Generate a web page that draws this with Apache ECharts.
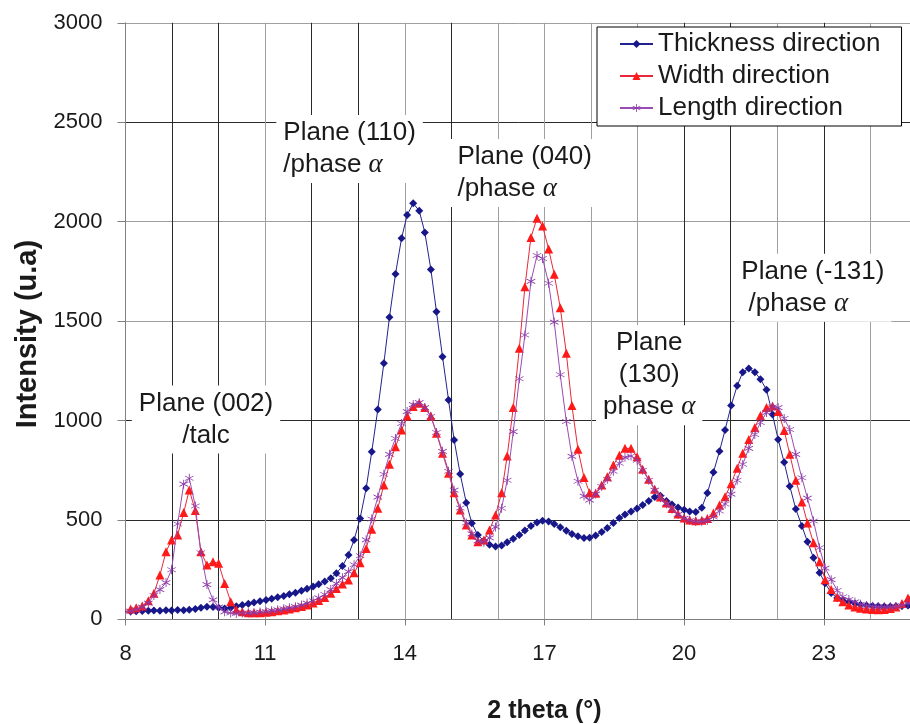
<!DOCTYPE html>
<html>
<head>
<meta charset="utf-8">
<script src="https://cdn.jsdelivr.net/npm/echarts@6/dist/echarts.min.js"></script>
<style>
  html, body { margin: 0; padding: 0; background: #ffffff; }
  #chart { width: 910px; height: 724px; }
</style>
</head>
<body>
<div id="chart"></div>
<script>
// Diffraction scan positions, 2 theta (deg)
const twoTheta = [
  7.98, 8.11, 8.23, 8.36, 8.49, 8.61, 8.74, 8.87, 8.99, 9.12,
  9.25, 9.37, 9.50, 9.62, 9.75, 9.88, 10.00, 10.13, 10.26, 10.38,
  10.51, 10.64, 10.76, 10.89, 11.02, 11.14, 11.27, 11.40, 11.52, 11.65,
  11.78, 11.90, 12.03, 12.15, 12.28, 12.41, 12.53, 12.66, 12.79, 12.91,
  13.04, 13.17, 13.29, 13.42, 13.55, 13.67, 13.80, 13.93, 14.05, 14.18,
  14.31, 14.43, 14.56, 14.68, 14.81, 14.94, 15.06, 15.19, 15.32, 15.44,
  15.57, 15.70, 15.82, 15.95, 16.08, 16.20, 16.33, 16.46, 16.58, 16.71,
  16.84, 16.96, 17.09, 17.21, 17.34, 17.47, 17.59, 17.72, 17.85, 17.97,
  18.10, 18.23, 18.35, 18.48, 18.61, 18.73, 18.86, 18.99, 19.11, 19.24,
  19.37, 19.49, 19.62, 19.74, 19.87, 20.00, 20.12, 20.25, 20.38, 20.50,
  20.63, 20.76, 20.88, 21.01, 21.14, 21.26, 21.39, 21.52, 21.64, 21.77,
  21.90, 22.02, 22.15, 22.27, 22.40, 22.53, 22.65, 22.78, 22.91, 23.03,
  23.16, 23.29, 23.41, 23.54, 23.67, 23.79, 23.92, 24.05, 24.17, 24.30,
  24.43, 24.55, 24.68, 24.81, 24.93, 25.06
];

// Intensity (u.a) measured along each direction
const thicknessIntensity = [
  38, 40, 41, 42, 44, 45, 44, 46, 45, 47,
  46, 48, 52, 58, 63, 62, 58, 55, 58, 66,
  73, 79, 85, 91, 98, 104, 111, 118, 126, 134,
  144, 154, 165, 177, 191, 207, 232, 268, 324, 399,
  508, 659, 843, 1056, 1288, 1519, 1737, 1916, 2033, 2092,
  2055, 1946, 1760, 1547, 1321, 1103, 902, 731, 587, 483,
  424, 395, 376, 366, 372, 388, 405, 425, 447, 470,
  487, 496, 492, 480, 463, 446, 430, 418, 409, 410,
  422, 440, 460, 485, 510, 528, 543, 558, 575, 595,
  615, 622, 595, 578, 563, 552, 543, 540, 562, 636,
  740, 845, 952, 1075, 1175, 1243, 1262, 1243, 1208, 1155,
  1030, 905, 790, 670, 555, 470, 390, 310, 235, 182,
  133, 108, 95, 87, 80, 74, 70, 67, 66, 65,
  65, 66, 68, 70, 74, 78
];

const widthIntensity = [
  45, 52, 58, 68, 94, 131, 223, 340, 399, 424,
  537, 651, 547, 340, 273, 290, 282, 181, 89, 48,
  38, 34, 33, 34, 36, 39, 43, 47, 52, 58,
  65, 73, 83, 95, 110, 131, 156, 178, 198, 235,
  285, 357, 453, 559, 676, 780, 868, 952, 1023, 1070,
  1087, 1066, 1023, 936, 835, 735, 637, 550, 475, 424,
  391, 399, 449, 525, 637, 822, 1065, 1363, 1673, 1921,
  2017, 1978, 1862, 1735, 1567, 1338, 1075, 855, 714, 637,
  634, 676, 717, 776, 826, 860, 860, 818, 755, 705,
  655, 615, 585, 558, 530, 510, 500, 496, 498, 508,
  535, 575, 617, 682, 760, 836, 905, 965, 1025, 1066,
  1073, 1045, 950, 830, 700, 590, 485, 385, 290, 200,
  150, 112, 89, 72, 62, 56, 52, 50, 49, 50,
  55, 62, 80, 108, 130, 150
];

const lengthIntensity = [
  36, 42, 50, 62, 82, 120, 150, 185, 250, 480,
  680, 710, 570, 335, 175, 98, 62, 38, 32, 30,
  32, 32, 34, 37, 40, 44, 48, 53, 58, 64,
  72, 82, 94, 108, 125, 150, 180, 210, 240, 275,
  320, 400, 505, 615, 730, 830, 910, 985, 1045, 1080,
  1090, 1065, 1020, 940, 845, 745, 650, 560, 485, 430,
  395, 388, 410, 465, 559, 700, 944, 1210, 1430, 1700,
  1830, 1815, 1690, 1495, 1230, 995, 820, 695, 620, 600,
  630, 668, 705, 745, 785, 815, 822, 800, 750, 700,
  650, 612, 582, 555, 528, 508, 497, 492, 492, 498,
  515, 545, 580, 630, 700, 780, 860, 930, 990, 1040,
  1068, 1065, 1010, 955, 830, 712, 610, 495, 360, 258,
  200, 145, 114, 100, 88, 76, 70, 66, 64, 63,
  63, 65, 70, 80, 92, 105
];

const seriesNames = ['Thickness direction', 'Width direction', 'Length direction'];

// Axis ticks
const xTickLabels = [8, 11, 14, 17, 20, 23];
const yTickLabels = [0, 500, 1000, 1500, 2000, 2500, 3000];

// Reflection labels: text, anchor in data units, alignment of the block
const peakNotes = [
  { text: 'Plane (002)\n/talc', at: [9.73, 1005], align: 'center' },
  { text: 'Plane (110)\n/phase {a|α}', at: [11.24, 2365], align: 'left' },
  { text: 'Plane (040)\n/phase {a|α}', at: [14.98, 2245], align: 'left' },
  { text: 'Plane\n(130)\nphase {a|α}', at: [19.25, 1228], align: 'center' },
  { text: 'Plane (-131)\n /phase {a|α}', at: [21.08, 1668], align: 'left' }
];

const SANS = '"Liberation Sans", Arial, Helvetica, sans-serif';
const INK = '#1a1a1a';
const DARK_GRID = '#2a2a2a';
const LIGHT_GRID = '#a0a0a0';

// x grid lines from 8 to 26, alternating the darker and lighter strokes
const xGridColors = [
  LIGHT_GRID, DARK_GRID, DARK_GRID, LIGHT_GRID, DARK_GRID, DARK_GRID, LIGHT_GRID,
  DARK_GRID, LIGHT_GRID, LIGHT_GRID, LIGHT_GRID, LIGHT_GRID, DARK_GRID, DARK_GRID,
  LIGHT_GRID, DARK_GRID, LIGHT_GRID, LIGHT_GRID, LIGHT_GRID
];
const yGridColors = [LIGHT_GRID, DARK_GRID, DARK_GRID, LIGHT_GRID, LIGHT_GRID, DARK_GRID, LIGHT_GRID];

// six-armed asterisk marker
const ASTERISK = 'path://M9.2,0L10.8,0L10.8,20L9.2,20Z' +
  'M1.576,5.678L17.576,15.678L18.424,14.322L2.424,4.322Z' +
  'M2.424,15.678L18.424,5.678L17.576,4.322L1.576,14.322Z';

const pairs = (ys) => twoTheta.map((x, i) => [x, ys[i]]);

const chart = echarts.init(document.getElementById('chart'), null, { renderer: 'canvas' });

const xMin = xTickLabels[0];
const xStep = xTickLabels[1] - xTickLabels[0];

chart.setOption({
  animation: false,
  backgroundColor: '#ffffff',
  grid: { left: 125.5, top: 22.8, width: 837.9, height: 596.6, containLabel: false, outerBoundsMode: 'none' },
  legend: {
    orient: 'vertical',
    left: 597,
    top: 27,
    padding: [4, 21, 5, 22],
    itemGap: 6,
    itemWidth: 33,
    itemHeight: 10,
    backgroundColor: '#ffffff',
    borderColor: '#000000',
    borderWidth: 1,
    borderRadius: 0,
    textStyle: { fontFamily: SANS, fontSize: 26, color: INK },
    data: seriesNames
  },
  xAxis: [
    {
      type: 'value',
      min: xMin,
      max: 26,
      interval: xStep,
      position: 'bottom',
      name: '2 theta (°)',
      nameLocation: 'middle',
      nameGap: 79,
      nameTextStyle: { fontFamily: SANS, fontSize: 25, fontWeight: 'bold', color: INK },
      axisLine: { show: true, lineStyle: { color: '#808080', width: 1 } },
      axisTick: { show: true, length: 6, lineStyle: { color: '#808080' } },
      axisLabel: {
        fontFamily: SANS, fontSize: 22, color: INK, margin: 24,
        formatter: (v) => (xTickLabels.indexOf(v) >= 0 ? String(v) : '')
      },
      splitLine: { show: false }
    },
    {
      type: 'value',
      min: xMin,
      max: 26,
      interval: 1,
      position: 'bottom',
      axisLine: { show: false },
      axisTick: { show: false },
      axisLabel: { show: false },
      splitLine: { show: true, lineStyle: { color: xGridColors, width: 1 } }
    }
  ],
  yAxis: {
    type: 'value',
    min: yTickLabels[0],
    max: yTickLabels[yTickLabels.length - 1],
    interval: yTickLabels[1] - yTickLabels[0],
    name: 'Intensity (u.a)',
    nameLocation: 'middle',
    nameGap: 82,
    nameTextStyle: { fontFamily: SANS, fontSize: 29, fontWeight: 'bold', color: INK, padding: [0, 26, 0, 0] },
    axisLine: { show: true, lineStyle: { color: '#808080', width: 1 } },
    axisTick: { show: true, length: 8, lineStyle: { color: '#808080' } },
    axisLabel: { fontFamily: SANS, fontSize: 22, color: INK, margin: 23, formatter: (v) => String(v) },
    splitLine: { show: true, lineStyle: { color: yGridColors, width: 1 } }
  },
  series: [
    {
      name: seriesNames[0],
      type: 'line',
      data: pairs(thicknessIntensity),
      symbol: 'diamond',
      symbolSize: 8,
      showSymbol: true,
      lineStyle: { color: '#23238f', width: 1 },
      itemStyle: { color: '#17178a' },
      emphasis: { disabled: true },
      z: 3
    },
    {
      name: seriesNames[1],
      type: 'line',
      data: pairs(widthIntensity),
      symbol: 'triangle',
      symbolSize: 9,
      showSymbol: true,
      lineStyle: { color: '#e8283a', width: 1 },
      itemStyle: { color: '#ff1a1a' },
      emphasis: { disabled: true },
      z: 4
    },
    {
      name: seriesNames[2],
      type: 'line',
      data: pairs(lengthIntensity),
      symbol: ASTERISK,
      symbolSize: 9,
      showSymbol: true,
      lineStyle: { color: '#9a4cb4', width: 1 },
      itemStyle: { color: '#8a35a6' },
      emphasis: { disabled: true },
      z: 5
    }
  ]
});

// Reflection labels on white boxes, positioned from data coordinates
const noteGraphics = peakNotes.map((n) => {
  const p = chart.convertToPixel({ xAxisIndex: 0, yAxisIndex: 0 }, n.at);
  return {
    type: 'text',
    x: p[0],
    y: p[1],
    z: 20,
    silent: true,
    style: {
      text: n.text,
      fontFamily: SANS,
      fontSize: 26,
      lineHeight: 32,
      fill: INK,
      align: n.align,
      verticalAlign: 'middle',
      backgroundColor: '#ffffff',
      padding: [2, 7, 2, 7],
      rich: {
        a: { fontFamily: '"Liberation Serif", "DejaVu Serif", serif', fontStyle: 'italic', fontSize: 27, lineHeight: 32, fill: INK }
      }
    }
  };
});
chart.setOption({ graphic: noteGraphics });
</script>
</body>
</html>
